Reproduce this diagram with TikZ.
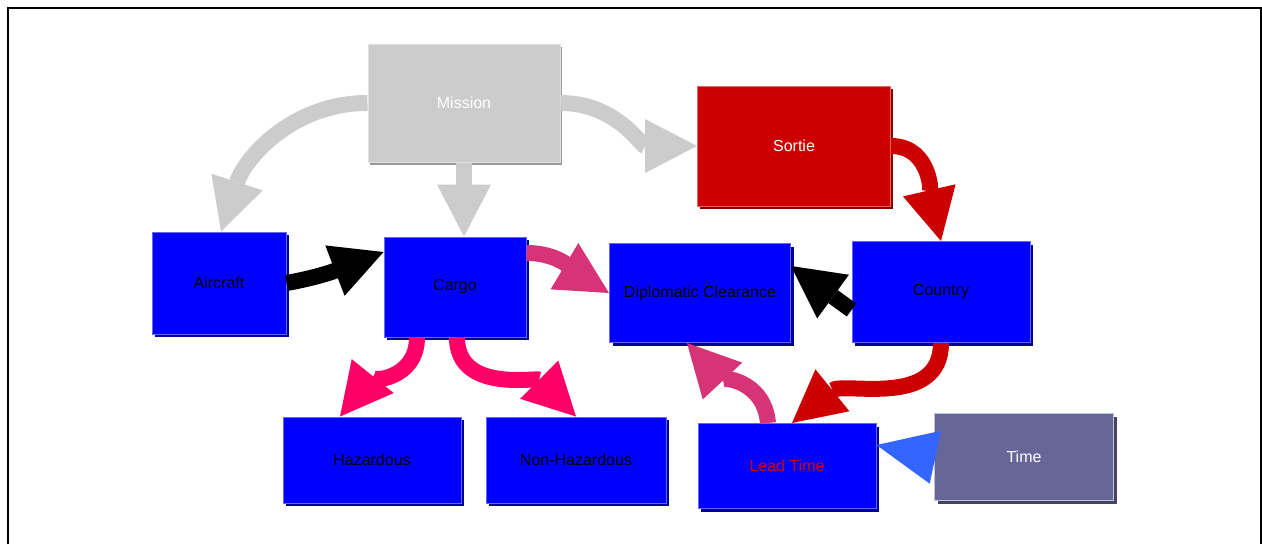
\documentclass[tikz,border=0pt]{standalone}
\usepackage{fontspec}
\setmainfont{Liberation Sans}
\usetikzlibrary{arrows.meta,shadows}

\definecolor{boxblue}{HTML}{0000FF}
\definecolor{edgeblue}{HTML}{6666FF}
\definecolor{shadeblue}{HTML}{000099}
\definecolor{boxgray}{HTML}{CCCCCC}
\definecolor{shadegray}{HTML}{999999}
\definecolor{boxred}{HTML}{CC0000}
\definecolor{shadered}{HTML}{880000}
\definecolor{boxslate}{HTML}{666699}
\definecolor{shadeslate}{HTML}{444466}
\definecolor{rosepink}{HTML}{D63477}
\definecolor{hotpink}{HTML}{FF0066}
\definecolor{lightblue}{HTML}{3366FF}

\tikzset{
  box/.style={rectangle, inner sep=0pt, font=\fontsize{16}{19}\selectfont},
  bluebox/.style={box, fill=boxblue, draw=edgeblue, line width=1pt,
    drop shadow={shadow xshift=3pt, shadow yshift=-3pt, opacity=1, fill=shadeblue}},
  graybox/.style={box, fill=boxgray, draw=boxgray!60, line width=1pt, text=white,
    drop shadow={shadow xshift=2pt, shadow yshift=-3pt, opacity=1, fill=shadegray}},
  redbox/.style={box, fill=boxred, draw=boxred!60, line width=1pt, text=white,
    drop shadow={shadow xshift=2pt, shadow yshift=-3pt, opacity=1, fill=shadered}},
  slatebox/.style={box, fill=boxslate, draw=boxslate!40, line width=1pt, text=white,
    drop shadow={shadow xshift=3pt, shadow yshift=-3pt, opacity=1, fill=shadeslate}},
  fat/.style={line width=16pt, -{Triangle[length=52pt,width=54pt,line width=0pt]}},
  stub/.style={line width=16pt, -{Triangle[length=60pt,width=54pt,line width=0pt]}}
}

\begin{document}
\begin{tikzpicture}[x=1pt,y=1pt]
  \useasboundingbox (0,0) rectangle (1262,-544);
  % frame, open at the bottom
  \draw[line width=1.2pt] (8,-544) -- (8,-8) -- (1261,-8) -- (1261,-544);

  % boxes
  \node[graybox, minimum width=192, minimum height=118] (mission) at (464,-103) {Mission};
  \node[redbox, minimum width=193, minimum height=120] (sortie) at (794,-146) {Sortie};
  \node[bluebox, minimum width=134, minimum height=102] (aircraft) at (219,-283) {Aircraft};
  \node[bluebox, minimum width=142, minimum height=100] (cargo) at (455,-287) {Cargo};
  \node[bluebox, minimum width=181, minimum height=99] (clearance) at (700,-293) {Diplomatic Clearance};
  \node[bluebox, minimum width=178, minimum height=101] (country) at (941,-292) {Country};
  \node[bluebox, minimum width=178, minimum height=86] (hazardous) at (372,-460) {Hazardous};
  \node[bluebox, minimum width=180, minimum height=86] (nonhazardous) at (576,-460) {Non-Hazardous};
  \node[bluebox, minimum width=178, minimum height=85, text=boxred] (leadtime) at (787,-466) {Lead Time};
  \node[slatebox, minimum width=179, minimum height=87] (time) at (1024,-457) {Time};

  % connectors
  \draw[fat, boxgray] (mission.west) to[out=180,in=72] ([xshift=2pt]aircraft.north);
  \draw[fat, boxgray] (mission.south) -- (mission.south |- cargo.north);
  \draw[fat, boxgray] (mission.east) to[out=0,in=180] (sortie.west);
  \draw[fat, boxred] (sortie.east) to[out=0,in=103] (country.north);
  \draw[fat, black] (aircraft.east) to[out=10,in=201] ([yshift=35pt]cargo.west);
  \draw[fat, rosepink] ([yshift=34pt]cargo.east) to[out=0,in=149] (clearance.west);
  \draw[fat, hotpink] ([xshift=-38pt]cargo.south) to[out=-90,in=51] ([xshift=-32pt]hazardous.north);
  \draw[fat, hotpink] ([xshift=2pt]cargo.south) to[out=-90,in=135] (nonhazardous.north);
  \draw[fat, black] ([yshift=-18pt]country.west) -- ([yshift=27pt]clearance.east);
  \draw[fat, boxred] (country.south) to[out=-90,in=39] ([xshift=5pt]leadtime.north);
  \draw[fat, rosepink] ([xshift=-19pt]leadtime.north) to[out=95,in=-47] ([xshift=-13pt]clearance.south);
  \draw[stub, lightblue] (time.west) -- ([yshift=21pt]leadtime.east);
\end{tikzpicture}
\end{document}
